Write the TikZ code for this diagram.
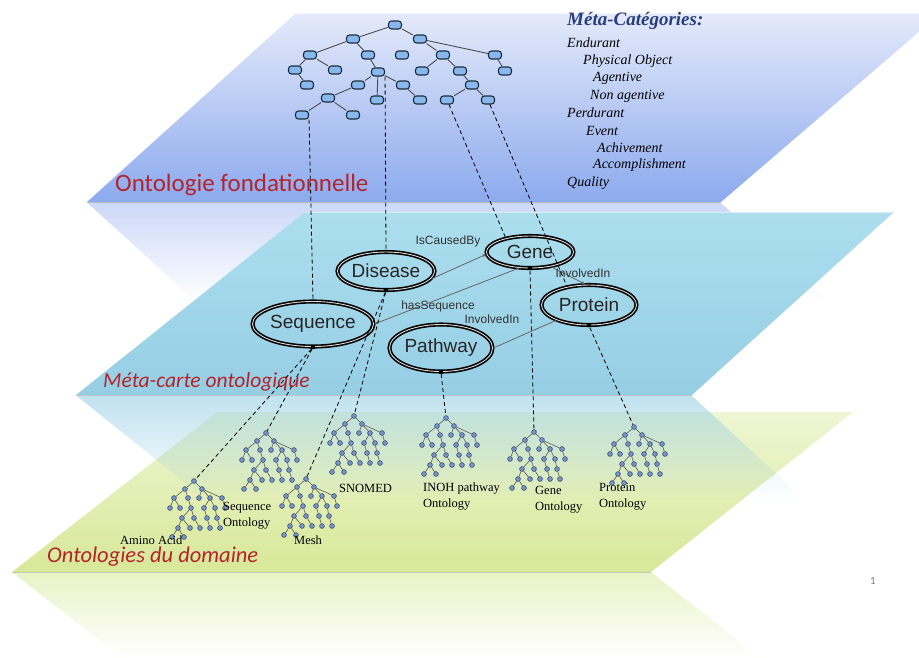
\documentclass[tikz,border=0pt]{standalone}
\usepackage{fontspec}
\setmainfont{Liberation Serif}
\setsansfont{Liberation Sans}
\newfontfamily\slidefont{Carlito}
\usetikzlibrary{shapes.geometric,arrows.meta,fadings}

\definecolor{fondA}{RGB}{228,234,250}
\definecolor{fondB}{RGB}{140,170,238}
\definecolor{metaA}{RGB}{172,222,238}
\definecolor{metaB}{RGB}{150,206,228}
\definecolor{domA}{RGB}{238,246,212}
\definecolor{domB}{RGB}{216,232,152}
\definecolor{titlered}{RGB}{180,36,42}
\definecolor{catblue}{RGB}{40,62,125}
\definecolor{hexfill}{RGB}{135,185,238}
\definecolor{hexdraw}{RGB}{30,45,60}
\definecolor{dotfill}{RGB}{120,150,200}
\definecolor{dotdraw}{RGB}{55,75,110}

\tikzfading[name=fadedown, top color=transparent!0, bottom color=transparent!100]

\tikzset{
  hexnode/.style={draw=hexdraw, fill=hexfill, line width=1.1pt, rounded corners=3pt,
    minimum width=13pt, minimum height=8pt, inner sep=0pt},
  hexedge/.style={draw=black!70, line width=0.9pt},
  dotnode/.style={circle, draw=dotdraw, fill=dotfill, line width=0.6pt,
    minimum size=4.8pt, inner sep=0pt},
  dotedge/.style={draw=black!65, line width=0.6pt},
  concept/.style={ellipse, draw=black, line width=1.6pt, double=white!70!gray,
    double distance=0.9pt, inner sep=0pt,
    font=\sffamily\fontsize{19}{19}\selectfont, text=black!85},
  port/.style={rectangle, fill=black, minimum width=4pt, minimum height=3pt, inner sep=0pt},
  rel/.style={draw=black!60, line width=0.8pt},
  reltip/.style={rel, -{Stealth[length=4pt, width=3pt]}},
  rellabel/.style={font=\sffamily\fontsize{12}{12}\selectfont, text=black!80, inner sep=0pt},
  link/.style={draw=black, dash pattern=on 4pt off 3pt, line width=0.8pt},
  cat/.style={anchor=west, font=\itshape\fontsize{14}{14}\selectfont, inner sep=0pt},
  domlabel/.style={font=\fontsize{12.5}{16}\selectfont, align=left, anchor=west, inner sep=0pt},
  layertitle/.style={anchor=west, text=titlered, inner sep=0pt},
  smalltree/.pic={
    \foreach \n/\px/\py in {r/0/0, a/-9/8, b/8/8, c/-20/17, d/-6/17, e/5/17, f/16/17,
        g/28/17, h/-24/27, i/-14/27, j/-3/27, k/10/27, l/21/27, m/31/27, n/-12/37,
        o/0/37, p/13/37, q/23/37, s/-16/47, t/-4/47, u/6/47, v/16/47, w/26/47,
        x/-22/56, y/-10/56}
      \node[dotnode] (-\n) at (\px,\py) {};
    \foreach \u/\v in {r/a, r/b, a/c, a/d, b/e, b/f, b/g, c/h, c/i, d/j, f/k, f/l,
        g/m, j/n, j/o, k/p, l/q, n/s, n/t, o/u, p/v, q/w, s/x, s/y}
      \draw[dotedge] (-\u) -- (-\v);
  }
}

\begin{document}
\begin{tikzpicture}[x=1pt,y=-1pt]
\useasboundingbox (0,0) rectangle (919,657);
\clip (0,0) rectangle (919,657);

% ---- reflections below the layers ----
\fill[domB!80!white, path fading=fadedown, fill opacity=0.7]
  (12,572) -- (651,572) -- (760,657) -- (121,657) -- cycle;
\fill[fondB, path fading=fadedown, fill opacity=0.45]
  (87,202) -- (721,202) -- (831,302) -- (197,302) -- cycle;

% ---- foundational layer ----
\shade[top color=fondA, bottom color=fondB] (296,13) -- (941,13) -- (721,202) -- (87,202) -- cycle;
\draw[gray!60, line width=1.4pt, opacity=0.7] (87,202.5) -- (721,202.5);
\draw[white, line width=1pt, opacity=0.6] (296,13.5) -- (941,13.5);

% ---- domain layer ----
\shade[top color=domA, bottom color=domB] (217,412) -- (853,412) -- (651,572) -- (12,572) -- cycle;
\draw[gray!55, line width=1.4pt, opacity=0.7] (12,572.5) -- (651,572.5);
\draw[white!60!domB, line width=1pt] (217,412.5) -- (853,412.5);

% ---- reflection of the ontology map ----
\fill[metaB, path fading=fadedown, fill opacity=0.6]
  (76,395) -- (692,395) -- (806,500) -- (207,500) -- cycle;

% ---- ontology map layer ----
\shade[top color=metaA, bottom color=metaB] (305,212) -- (894,212) -- (692,395) -- (76,395) -- cycle;
\draw[gray!55, line width=1.4pt, opacity=0.7] (76,395.5) -- (692,395.5);
\draw[white!50!metaA, line width=1.2pt] (305,212.5) -- (894,212.5);

% ---- layer titles ----
\node[layertitle, font=\slidefont\fontsize{25}{25}\selectfont] (fondtitle) at (115,185) {Ontologie fondationnelle};
\node[layertitle, font=\slidefont\itshape\fontsize{21.5}{21.5}\selectfont] (metatitle) at (103,382) {Méta-carte ontologique};
\node[layertitle, font=\slidefont\itshape\fontsize{22.5}{22.5}\selectfont] (domtitle) at (47,557) {Ontologies du domaine};
\node[font=\slidefont\fontsize{11}{11}\selectfont, text=gray] (pagenum) at (873,581) {1};

% ---- meta-categories ----
\node[anchor=west, inner sep=0pt, text=catblue, font=\bfseries\itshape\fontsize{19}{19}\selectfont] (cathead) at (567,21) {Méta-Catégories:};
\node[cat] (c1) at (567,43) {Endurant};
\node[cat] (c2) at (583,61) {Physical Object};
\node[cat] (c3) at (593,78) {Agentive};
\node[cat] (c4) at (590,96) {Non agentive};
\node[cat] (c5) at (567,113) {Perdurant};
\node[cat] (c6) at (586,131) {Event};
\node[cat] (c7) at (597,148) {Achivement};
\node[cat] (c8) at (593,165) {Accomplishment};
\node[cat] (c9) at (567,183) {Quality};

% ---- foundational ontology tree ----
\foreach \n/\px/\py in {1/395/25, 2/353/39, 3/420/39, 4/310/55, 5/368/55, 6/402/55,
    7/443/55, 8/495/55, 9/295/70, 10/335/70, 11/378/72, 12/422/71, 13/460/71,
    14/505/71, 15/307/85, 16/358/85, 17/403/85, 18/472/85, 19/328/98, 20/377/100,
    21/420/100, 22/447/100, 23/488/100, 24/302/115, 25/353/115}
  \node[hexnode] (t\n) at (\px,\py) {};
\foreach \u/\v in {1/2, 1/3, 2/4, 2/5, 3/7, 3/8, 4/9, 4/10, 5/11, 7/12, 7/13, 8/14,
    9/15, 11/16, 11/17, 11/20, 13/18, 16/19, 17/21, 18/22, 18/23, 19/24, 19/25}
  \draw[hexedge] (t\u) -- (t\v);

% ---- ontology map concepts ----
\node[concept, minimum width=87pt, minimum height=32pt] (gene) at (530,252) {Gene};
\node[concept, minimum width=89pt, minimum height=38pt] (disease) at (386,271) {Disease};
\node[concept, minimum width=95pt, minimum height=40pt] (protein) at (589,305) {Protein};
\node[concept, minimum width=107pt, minimum height=45pt] (sequence) at (313,324) {Sequence};
\node[concept, minimum width=91pt, minimum height=47pt] (pathway) at (441,348) {Pathway};

\node[port] (gene-p) at (gene.south) {};
\node[port] (disease-p) at (disease.south) {};
\node[port] (protein-p) at (protein.south) {};
\node[port] (sequence-p) at (sequence.south) {};
\node[port] (pathway-p) at (pathway.south) {};

% relations
\draw[reltip] (disease.-10) -- (gene.183);
\draw[reltip] (gene.235) -- (sequence.east);
\draw[reltip] (gene.-35) -- (protein.100);
\draw[rel] (protein.205) -- (pathway.east);
\node[rellabel] (l-cause) at (448,241) {IsCausedBy};
\node[rellabel] (l-seq) at (438,306) {hasSequence};
\node[rellabel] (l-inv1) at (583,273) {InvolvedIn};
\node[rellabel] (l-inv2) at (492,319) {InvolvedIn};

% ---- domain ontologies ----
\pic (amino) at (194,481) {smalltree};
\pic (seqont) at (266,433) {smalltree};
\pic (mesh) at (306,479) {smalltree};
\pic (snomed) at (354,416) {smalltree};
\pic (inoh) at (446,418) {smalltree};
\pic (geneont) at (534,432) {smalltree};
\pic (protont) at (634,427) {smalltree};

\node[domlabel] (lab-amino) at (120,540) {Amino Acid};
\node[domlabel] (lab-seq) at (223,516) {Sequence\\Ontology};
\node[domlabel] (lab-mesh) at (294,540) {Mesh};
\node[domlabel] (lab-snomed) at (339,488) {SNOMED};
\node[domlabel] (lab-inoh) at (423,497) {INOH pathway\\Ontology};
\node[domlabel] (lab-gene) at (535,500) {Gene\\Ontology};
\node[domlabel] (lab-prot) at (599,497) {Protein\\Ontology};

% ---- mappings between layers ----
\draw[link] (t24.south east) -- (sequence.north);
\draw[link] (t11.south east) -- (disease.north);
\draw[link] (t22) -- (gene.150);
\draw[link] (t23) -- (protein.140);
\draw[link] (sequence-p) -- (amino-r);
\draw[link] (sequence-p) -- (seqont-r);
\draw[link] (disease-p) -- (mesh-r);
\draw[link] (disease-p) -- (snomed-r);
\draw[link] (pathway-p) -- (inoh-r);
\draw[link] (gene-p) -- (geneont-r);
\draw[link] (protein-p) -- (protont-r);
\end{tikzpicture}
\end{document}
